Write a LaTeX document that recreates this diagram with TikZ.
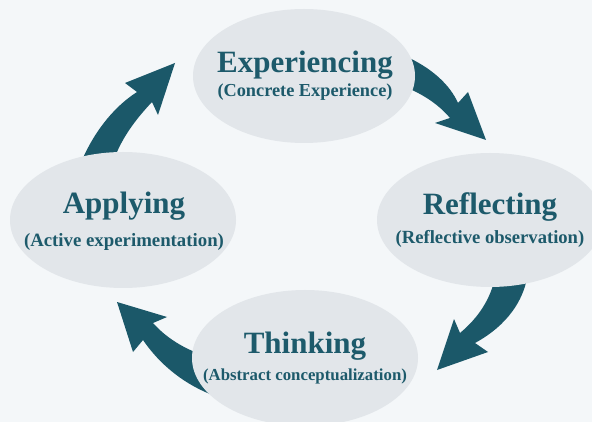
\documentclass[tikz,border=0pt]{standalone}
\usepackage{fontspec}
\setmainfont{Liberation Serif}
\usetikzlibrary{shapes.geometric}
\definecolor{bgc}{HTML}{F4F7F9}
\definecolor{blobc}{HTML}{E2E6EA}
\definecolor{inkc}{HTML}{1B5869}
\definecolor{txtc}{HTML}{1D5A6B}
\tikzset{
  blob/.style={ellipse, fill=blobc, inner sep=0pt},
  ttl/.style={anchor=base, text=txtc, font=\bfseries\fontsize{31}{31}\selectfont, inner sep=0pt},
  sub/.style={anchor=base, text=txtc, inner sep=0pt},
  swoosh/.style={fill=inkc}
}
\begin{document}
\begin{tikzpicture}[x=1pt,y=-1pt]
\fill[bgc] (0,0) rectangle (592,422);
\useasboundingbox (0,0) rectangle (592,422);
% arrows (behind ellipses)
\fill[swoosh] (405,56) .. controls (432,68) and (450,85) .. (458,103)
  -- (468,92) -- (486,140) -- (435,123) -- (450,118)
  .. controls (440,106) and (425,95) .. (405,87) -- cycle;
\fill[swoosh] (527,278) .. controls (523,300) and (508,325) .. (475,343)
  -- (488,352) -- (437,370) -- (454,319) -- (460,333)
  .. controls (478,318) and (490,300) .. (495,278) -- cycle;
\fill[swoosh] (210,357) .. controls (190,352) and (168,340) .. (153,323)
  -- (167,317) -- (117,302) -- (133,352) -- (143,340)
  .. controls (160,365) and (185,385) .. (215,396) -- cycle;
\fill[swoosh] (80,165) .. controls (92,135) and (112,108) .. (137,92)
  -- (125,83) -- (175,63) -- (158,115) -- (152,102)
  .. controls (135,120) and (120,140) .. (112,165) -- cycle;
% ellipses
\node[blob, minimum width=222pt, minimum height=134pt] (E) at (304,76) {};
\node[blob, minimum width=226pt, minimum height=136pt] (A) at (123,220) {};
\node[blob, minimum width=226pt, minimum height=134pt] (R) at (490,220) {};
\node[blob, minimum width=226pt, minimum height=136pt] (T) at (305,358) {};
% texts
\node[ttl] (Et) at (305,73) {Experiencing};
\node[sub, font=\bfseries\fontsize{18.3}{18}\selectfont] (Es) at (305,97) {(Concrete Experience)};
\node[ttl] (At) at (124,214) {Applying};
\node[sub, font=\bfseries\fontsize{18.8}{18}\selectfont] (As) at (124,247) {(Active experimentation)};
\node[ttl] (Rt) at (490,215) {Reflecting};
\node[sub, font=\bfseries\fontsize{18.6}{18}\selectfont] (Rs) at (490,244) {(Reflective observation)};
\node[ttl] (Tt) at (305,353) {Thinking};
\node[sub, font=\bfseries\fontsize{16.8}{17}\selectfont] (Ts) at (305,380) {(Abstract conceptualization)};
\end{tikzpicture}
\end{document}
